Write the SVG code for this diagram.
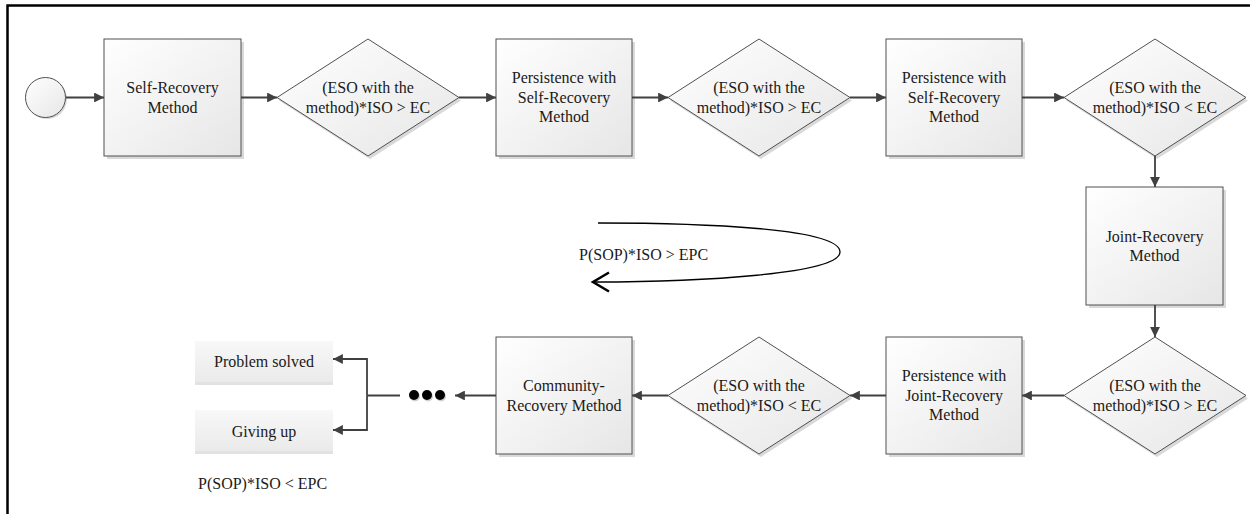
<svg xmlns="http://www.w3.org/2000/svg" width="1250" height="514" viewBox="0 0 1250 514">
  <defs>
    <linearGradient id="boxFill" x1="0" y1="0" x2="1" y2="1">
      <stop offset="0" stop-color="#ffffff"/>
      <stop offset="1" stop-color="#e6e6e6"/>
    </linearGradient>
    <linearGradient id="endFill" x1="0" y1="0" x2="0" y2="1">
      <stop offset="0" stop-color="#f8f8f8"/>
      <stop offset="1" stop-color="#eaeaea"/>
    </linearGradient>
    <marker id="arrow" viewBox="0 0 10 10" refX="10" refY="5" markerWidth="5.5" markerHeight="5.5" markerUnits="strokeWidth" orient="auto">
      <path d="M0,0 L10,5 L0,10 z" fill="#404040"/>
    </marker>
  </defs>
  <style>
    .frame { stroke: #000; stroke-width: 2.5; fill: none; }
    .box { fill: url(#boxFill); stroke: #505050; stroke-width: 1; }
    .shadow { fill: #d9d9d9; }
    .end { fill: url(#endFill); }
    .conn { stroke: #404040; stroke-width: 1.8; fill: none; marker-end: url(#arrow); }
    .plain { stroke: #404040; stroke-width: 1.8; fill: none; }
    .t { font-size: 16px; fill: #1a1a1a; text-anchor: middle; }
    .left { text-anchor: start; }
  </style>

  <!-- outer frame (top and left edges) -->
  <path class="frame" d="M7.5,514 V5.5 H1250"/>

  <g font-family="'Liberation Serif', Tinos, 'Times New Roman', 'DejaVu Serif', serif">

  <!-- start event -->
  <g id="start">
    <circle cx="47" cy="99" r="20" class="shadow"/>
    <circle cx="45.5" cy="97.5" r="20" class="box"/>
  </g>

  <g id="self-recovery">
    <rect x="107" y="42" width="137" height="117" class="shadow"/>
    <rect x="104" y="39" width="137" height="117" class="box"/>
    <text class="t" x="172.5" y="93">Self-Recovery</text>
    <text class="t" x="172.5" y="112.5">Method</text>
  </g>

  <g id="decision-1">
    <polygon points="370,42 461,100.5 370,159 279,100.5" class="shadow"/>
    <polygon points="368,39 459,97.5 368,156 277,97.5" class="box"/>
    <text class="t" x="368" y="93">(ESO with the</text>
    <text class="t" x="368" y="112.5">method)*ISO &gt; EC</text>
  </g>

  <g id="persist-self-1">
    <rect x="499" y="42" width="136" height="117" class="shadow"/>
    <rect x="496" y="39" width="136" height="117" class="box"/>
    <text class="t" x="564" y="83">Persistence with</text>
    <text class="t" x="564" y="102.5">Self-Recovery</text>
    <text class="t" x="564" y="122">Method</text>
  </g>

  <g id="decision-2">
    <polygon points="761,42 852,100.5 761,159 670,100.5" class="shadow"/>
    <polygon points="759,39 850,97.5 759,156 668,97.5" class="box"/>
    <text class="t" x="759" y="93">(ESO with the</text>
    <text class="t" x="759" y="112.5">method)*ISO &gt; EC</text>
  </g>

  <g id="persist-self-2">
    <rect x="889" y="42" width="136" height="117" class="shadow"/>
    <rect x="886" y="39" width="136" height="117" class="box"/>
    <text class="t" x="954" y="83">Persistence with</text>
    <text class="t" x="954" y="102.5">Self-Recovery</text>
    <text class="t" x="954" y="122">Method</text>
  </g>

  <g id="decision-3">
    <polygon points="1157,42 1248,100.5 1157,159 1066,100.5" class="shadow"/>
    <polygon points="1155,39 1246,97.5 1155,156 1064,97.5" class="box"/>
    <text class="t" x="1155" y="93">(ESO with the</text>
    <text class="t" x="1155" y="112.5">method)*ISO &lt; EC</text>
  </g>

  <g id="joint-recovery">
    <rect x="1089" y="190" width="137" height="118" class="shadow"/>
    <rect x="1086" y="187" width="137" height="118" class="box"/>
    <text class="t" x="1154.5" y="241.5">Joint-Recovery</text>
    <text class="t" x="1154.5" y="261">Method</text>
  </g>

  <g id="decision-4">
    <polygon points="1157,340 1248,398.5 1157,457 1066,398.5" class="shadow"/>
    <polygon points="1155,337 1246,395.5 1155,454 1064,395.5" class="box"/>
    <text class="t" x="1155" y="391">(ESO with the</text>
    <text class="t" x="1155" y="410.5">method)*ISO &gt; EC</text>
  </g>

  <g id="persist-joint">
    <rect x="889" y="340" width="136" height="117" class="shadow"/>
    <rect x="886" y="337" width="136" height="117" class="box"/>
    <text class="t" x="954" y="381">Persistence with</text>
    <text class="t" x="954" y="400.5">Joint-Recovery</text>
    <text class="t" x="954" y="420">Method</text>
  </g>

  <g id="decision-5">
    <polygon points="761,340 852,398.5 761,457 670,398.5" class="shadow"/>
    <polygon points="759,337 850,395.5 759,454 668,395.5" class="box"/>
    <text class="t" x="759" y="391">(ESO with the</text>
    <text class="t" x="759" y="410.5">method)*ISO &lt; EC</text>
  </g>

  <g id="community-recovery">
    <rect x="499" y="340" width="136" height="117" class="shadow"/>
    <rect x="496" y="337" width="136" height="117" class="box"/>
    <text class="t" x="564" y="391">Community-</text>
    <text class="t" x="564" y="410.5">Recovery Method</text>
  </g>

  <g id="continuation">
    <circle cx="415" cy="396.5" r="5" fill="#d0d0d0"/>
    <circle cx="428" cy="396.5" r="5" fill="#d0d0d0"/>
    <circle cx="441" cy="396.5" r="5" fill="#d0d0d0"/>
    <circle cx="414" cy="395" r="5" fill="#000"/>
    <circle cx="427" cy="395" r="5" fill="#000"/>
    <circle cx="440" cy="395" r="5" fill="#000"/>
  </g>

  <g id="problem-solved">
    <rect x="195" y="343" width="138" height="42" fill="#e2e2e2"/>
    <rect x="195" y="341" width="138" height="41" class="end"/>
    <text class="t" x="264" y="366.5">Problem solved</text>
  </g>

  <g id="giving-up">
    <rect x="195" y="412" width="138" height="42" fill="#e2e2e2"/>
    <rect x="195" y="410" width="138" height="41" class="end"/>
    <text class="t" x="264" y="436.5">Giving up</text>
  </g>

  <g id="labels">
    <text class="t left" x="579" y="260">P(SOP)*ISO &gt; EPC</text>
    <text class="t left" x="198" y="489">P(SOP)*ISO &lt; EPC</text>
  </g>

  </g>

  <g id="connectors">
    <path class="conn" d="M66,97.5 H104"/>
    <path class="conn" d="M241,97.5 H277"/>
    <path class="conn" d="M459,97.5 H496"/>
    <path class="conn" d="M632,97.5 H668"/>
    <path class="conn" d="M850,97.5 H886"/>
    <path class="conn" d="M1022,97.5 H1064"/>
    <path class="conn" d="M1155,156 V187"/>
    <path class="conn" d="M1155,305 V337"/>
    <path class="conn" d="M1064,395.5 H1022"/>
    <path class="conn" d="M886,395.5 H850"/>
    <path class="conn" d="M668,395.5 H632"/>
    <path class="conn" d="M496,395.5 H455"/>
    <path class="plain" d="M400,395.5 H367"/>
    <path class="conn" d="M367,395.5 V359 H333"/>
    <path class="conn" d="M367,395.5 V430 H333"/>
    <!-- loop back arrow -->
    <path d="M598,223 C700,223 840,228 840,252 C840,274 700,282 594,282" fill="none" stroke="#000" stroke-width="1.3"/>
    <path d="M609,272.5 L593,282 L609,291.5" fill="none" stroke="#000" stroke-width="2.5" stroke-linejoin="miter"/>
  </g>
</svg>
